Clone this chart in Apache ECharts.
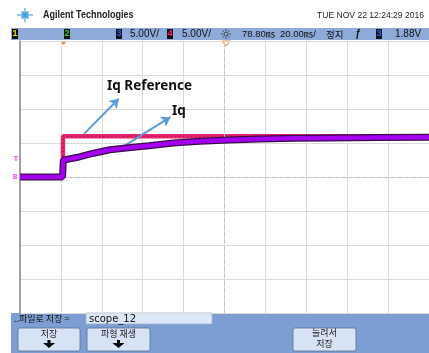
<!DOCTYPE html>
<html><head><meta charset="utf-8">
<script src="https://cdn.jsdelivr.net/npm/echarts@6/dist/echarts.min.js"></script>
<style>html,body{margin:0;padding:0;background:#fff}#c{width:429px;height:353px}</style>
</head><body><div id="c"></div>
<script>
// time in ms (20 ms/div, 10 divisions), voltage in V (5 V/div)
var refTime = [0, 21, 21, 200];
var refValue = [0, 0, 6.0, 6.0];
var iqTime = [0, 20.8, 21.2, 29, 36, 44, 53, 63, 75, 88, 102, 117, 134, 151, 175, 200];
var iqValue = [0, 0, 2.5, 2.95, 3.5, 4.0, 4.3, 4.6, 5.0, 5.25, 5.45, 5.6, 5.7, 5.75, 5.8, 5.85];
var annotations = ['Iq Reference', 'Iq'];
var headerTexts = ['Agilent Technologies', 'TUE NOV 22 12:24:29 2016'];
var barTexts = ['5.00V/', '5.00V/', '78.80\u33B3', '20.00\u33B3/', '정지', '1.88V'];
var footerTexts = ['..파일로 저장 =', 'scope_12', '저장', '파형 재생', '늘려서', '저장'];

function pairs(t, v) { return t.map(function (x, i) { return [x, v[i]]; }); }

var chart = echarts.init(document.getElementById('c'), null, { renderer: 'canvas' });
var F = '"Liberation Sans", "Noto Sans CJK KR", sans-serif';
var FK = '"Noto Sans CJK KR", sans-serif';
var g = [];
// logo
var cx = 25, cy = 15;
[[0, 8], [45, 5], [90, 7], [135, 5], [180, 8], [225, 5], [270, 7], [315, 5], [22, 4], [67, 4], [112, 4], [157, 4], [202, 4], [247, 4], [292, 4], [337, 4]].forEach(function (a) {
  var r = a[0] * Math.PI / 180;
  g.push({ type: 'line', shape: { x1: cx, y1: cy, x2: cx + Math.cos(r) * a[1], y2: cy + Math.sin(r) * a[1] }, style: { stroke: '#4aa3dd', lineWidth: 1.2 } });
});
g.push({ type: 'text', x: 43, y: 15, scaleX: 0.82, style: { text: headerTexts[0], font: 'bold 11px ' + F, fill: '#222', verticalAlign: 'middle' } });
g.push({ type: 'text', x: 424, y: 15, scaleX: 0.9, style: { text: headerTexts[1], font: '9.5px ' + F, fill: '#222', align: 'right', verticalAlign: 'middle' } });
// header bar
g.push({ type: 'rect', shape: { x: 11, y: 28, width: 420, height: 12 }, style: { fill: '#8eaad8' } });
function chBox(x, num, col) {
  g.push({ type: 'rect', shape: { x: x, y: 29, width: 6, height: 10 }, style: { fill: '#111' } });
  g.push({ type: 'text', x: x + 3, y: 34, style: { text: num, font: 'bold 9px ' + F, fill: col, align: 'center', verticalAlign: 'middle' } });
}
chBox(12, '1', '#e8e020'); chBox(64, '2', '#30d040'); chBox(116, '3', '#3060ff'); chBox(167, '4', '#ff2060'); chBox(376, '3', '#3060ff');
var bx = [130, 182, 242, 280, 326, 395];
barTexts.forEach(function (t, i) {
  var f = (i === 2 || i === 3) ? '9.5px "Liberation Sans", "Noto Sans CJK KR"' : (i === 4 ? '9.5px ' + FK : '10px ' + F);
  g.push({ type: 'text', x: bx[i], y: 34, style: { text: t, font: f, fill: '#111', verticalAlign: 'middle' } });
});
g.push({ type: 'circle', shape: { cx: 226, cy: 34, r: 2 }, style: { fill: 'none', stroke: '#333', lineWidth: 0.8 } });
[0, 45, 90, 135, 180, 225, 270, 315].forEach(function (d) {
  var r = d * Math.PI / 180;
  g.push({ type: 'line', shape: { x1: 226 + Math.cos(r) * 3, y1: 34 + Math.sin(r) * 3, x2: 226 + Math.cos(r) * 5, y2: 34 + Math.sin(r) * 5 }, style: { stroke: '#333', lineWidth: 0.8 } });
});
g.push({ type: 'text', x: 355, y: 34, style: { text: 'ƒ', font: 'italic bold 10px ' + F, fill: '#111', verticalAlign: 'middle' } });
// trigger markers
g.push({ type: 'polygon', shape: { points: [[60, 41], [67, 41], [63.5, 45]] }, style: { fill: '#f08020' } });
g.push({ type: 'polygon', shape: { points: [[222, 41], [230, 41], [226, 46]] }, style: { fill: 'none', stroke: '#f08020', lineWidth: 1 } });
// left markers
g.push({ type: 'text', x: 16, y: 159, style: { text: 'T', font: 'bold 8px ' + F, fill: '#e040e0', align: 'center', verticalAlign: 'middle' } });
g.push({ type: 'text', x: 15, y: 177, style: { text: '8', font: 'bold 8px ' + F, fill: '#e040e0', align: 'center', verticalAlign: 'middle' } });
// annotations
g.push({ type: 'text', z: 100, left: 107, top: 79, style: { text: annotations[0], font: 'bold 13.5px "Noto Sans", sans-serif', fill: '#111' } });
g.push({ type: 'text', z: 100, left: 172, top: 104, style: { text: annotations[1], font: 'bold 13.5px "Noto Sans", sans-serif', fill: '#111' } });
// footer
g.push({ type: 'rect', shape: { x: 11, y: 313, width: 420, height: 40 }, style: { fill: '#7c9ed2' } });
g.push({ type: 'text', x: 14, y: 319, style: { text: footerTexts[0], font: '9px ' + FK, fill: '#111', verticalAlign: 'middle' } });
g.push({ type: 'rect', shape: { x: 86, y: 313, width: 126, height: 11 }, style: { fill: '#dce8f8', stroke: '#9cb0d0', lineWidth: 0.8 } });
g.push({ type: 'text', x: 89, y: 319, style: { text: footerTexts[1], font: '10px "DejaVu Sans", sans-serif', fill: '#111', verticalAlign: 'middle' } });
function button(x, w, lines, arrow) {
  g.push({ type: 'rect', shape: { x: x, y: 328, width: w, height: 23, r: 2 }, style: { fill: '#d6e3f5', stroke: '#5a7090', lineWidth: 0.8 } });
  lines.forEach(function (t, i) {
    g.push({ type: 'text', x: x + w / 2, y: (lines.length === 1 ? 334 : 333 + i * 11), style: { text: t, font: '9px ' + FK, fill: '#222', align: 'center', verticalAlign: 'middle' } });
  });
  if (arrow) {
    var c = x + w / 2;
    g.push({ type: 'rect', shape: { x: c - 1.5, y: 340, width: 3, height: 3 }, style: { fill: '#000' } });
    g.push({ type: 'polygon', shape: { points: [[c - 6, 343], [c + 6, 343], [c, 348]] }, style: { fill: '#000' } });
  }
}
button(18, 62, [footerTexts[2]], true);
button(87, 63, [footerTexts[3]], true);
button(293, 63, [footerTexts[4], footerTexts[5]], false);

chart.setOption({
  animation: false,
  backgroundColor: '#fff',
  grid: { left: 20, top: 41, width: 410, height: 272, containLabel: false },
  xAxis: {
    type: 'value', min: 0, max: 200, interval: 20,
    axisLine: { show: false }, axisTick: { show: false }, axisLabel: { show: false },
    splitLine: { show: true, lineStyle: { color: '#dadada', width: 1 } }
  },
  yAxis: {
    type: 'value', min: -20, max: 20, interval: 5,
    axisLine: { show: true, onZero: false, lineStyle: { color: '#8a8a8a', width: 1.5 } },
    axisTick: { show: false }, axisLabel: { show: false },
    splitLine: { show: true, lineStyle: { color: '#dadada', width: 1 } }
  },
  series: [
    {
      type: 'line', data: pairs(refTime, refValue), symbol: 'none',
      lineStyle: { color: '#e8246e', width: 4.5 }, z: 3,
      markLine: {
        silent: true, symbol: 'none', label: { show: false },
        lineStyle: { color: '#c4c4c4', type: [4, 3], width: 1 },
        data: [{ yAxis: 0 }, { xAxis: 100 }]
      }
    },
    {
      type: 'line', data: pairs(refTime, refValue), symbol: 'none',
      lineStyle: { color: '#6a1030', width: 1, type: [1, 3] }, z: 4
    },
    {
      type: 'line', data: pairs(iqTime, iqValue), symbol: 'none',
      lineStyle: { color: '#3a0c4a', width: 7 }, z: 5
    },
    {
      type: 'line', data: pairs(iqTime, iqValue), symbol: 'none',
      lineStyle: { color: '#a400f0', width: 4.5 }, z: 6,
      markLine: {
        silent: true, symbol: ['none', 'arrow'], symbolSize: 9, label: { show: false },
        lineStyle: { color: '#5b9bd5', width: 2, type: 'solid' },
        data: [
          [{ coord: [31.2, 6.3] }, { coord: [48.3, 11.5] }],
          [{ coord: [46.3, 3.7] }, { coord: [73.5, 8.8] }]
        ]
      }
    }
  ],
  graphic: g
});
</script>
</body></html>
